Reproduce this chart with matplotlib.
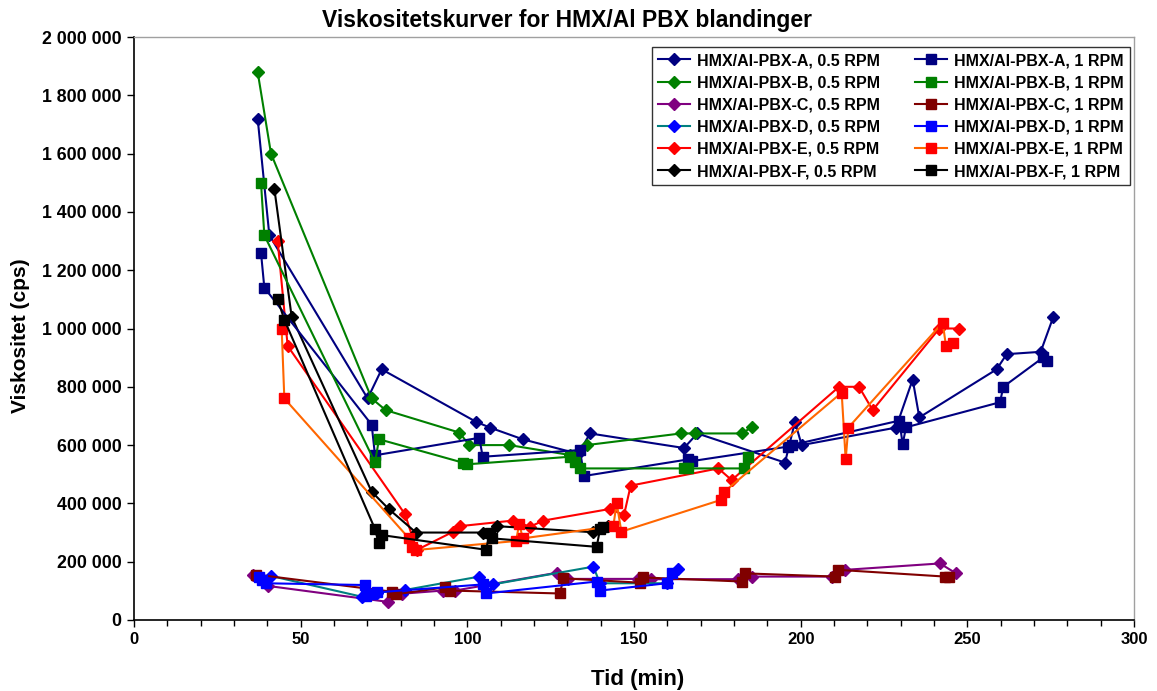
import matplotlib
matplotlib.use("Agg")
import matplotlib.pyplot as plt
from matplotlib.ticker import FuncFormatter, MultipleLocator

plt.rcParams['font.family'] = ['Liberation Sans', 'DejaVu Sans']

# ---- data (time in min, viscosity in cps) ----
A05_t = [37.1, 40.6, 70.1, 74.3, 102.6, 106.8, 116.6, 133.3, 136.8, 165.0, 169.0, 195.3, 198.3, 200.3, 228.6, 233.6, 235.6, 258.8, 261.8, 272.0, 275.8]
A05_v = [1720000, 1320000, 760000, 860000, 680000, 660000, 620000, 570000, 640000, 590000, 640000, 540000, 680000, 600000, 660000, 825000, 695000, 860000, 912000, 920000, 1040000]

A1_t = [38.1, 39.1, 71.3, 72.3, 103.6, 104.6, 133.8, 135.0, 166.3, 167.3, 196.3, 197.3, 229.6, 230.6, 231.6, 259.8, 260.8, 272.8, 274.0]
A1_v = [1260000, 1140000, 670000, 565000, 625000, 560000, 583000, 494000, 551000, 545000, 595000, 600000, 684000, 603000, 661000, 747000, 800000, 901000, 890000]

B05_t = [37.1, 41.1, 71.3, 75.5, 97.6, 100.6, 112.6, 130.8, 135.8, 164.1, 168.3, 182.3, 185.3]
B05_v = [1880000, 1600000, 760000, 720000, 643000, 600000, 600000, 566000, 600000, 640000, 640000, 640000, 661000]

B1_t = [38.1, 39.1, 72.3, 73.5, 98.6, 99.8, 130.8, 132.3, 133.8, 165.1, 166.1, 183.1, 184.3]
B1_v = [1500000, 1320000, 541000, 620000, 540000, 534000, 560000, 543000, 520000, 520000, 520000, 520000, 560000]

C05_t = [35.8, 40.1, 76.3, 80.3, 92.6, 96.3, 126.8, 130.3, 151.3, 155.0, 181.3, 185.3, 209.3, 213.3, 241.8, 246.6]
C05_v = [154000, 117000, 62000, 90000, 101000, 101000, 162000, 141000, 141000, 140000, 140000, 149000, 149000, 172000, 194000, 160000]

C1_t = [36.5, 77.5, 78.5, 93.3, 94.8, 127.8, 128.8, 151.8, 152.8, 182.3, 183.3, 210.3, 211.3, 243.3, 244.5]
C1_v = [156000, 97000, 88000, 112000, 101000, 91000, 143000, 128000, 146000, 132000, 160000, 149000, 172000, 149000, 149000]

D05_t = [41.1, 68.3, 70.5, 72.8, 81.3, 103.6, 107.6, 137.8, 139.8, 159.8, 163.3]
D05_v = [151000, 80000, 85000, 94000, 103000, 149000, 122000, 183000, 126000, 126000, 174000]

D1_t = [37.5, 38.5, 39.5, 69.3, 69.5, 71.0, 73.0, 104.6, 105.6, 138.8, 139.8, 159.8, 161.3]
D1_v = [149000, 137000, 126000, 120000, 83000, 88000, 95000, 122000, 91000, 132000, 101000, 126000, 162000]

E05_t = [43.1, 46.1, 81.3, 84.8, 95.6, 97.8, 113.6, 118.8, 122.8, 142.8, 147.0, 149.0, 175.3, 179.3, 211.5, 217.5, 221.6, 241.6, 247.6]
E05_v = [1300000, 940000, 363000, 240000, 302000, 322000, 341000, 320000, 341000, 381000, 360000, 461000, 520000, 480000, 800000, 800000, 720000, 1000000, 1000000]

E1_t = [44.3, 45.1, 82.5, 83.3, 84.6, 114.6, 115.6, 116.6, 143.8, 144.8, 146.2, 176.1, 177.1, 212.3, 213.5, 214.3, 242.6, 243.6, 245.6]
E1_v = [1000000, 760000, 280000, 251000, 240000, 271000, 331000, 280000, 322000, 402000, 303000, 412000, 440000, 780000, 551000, 660000, 1020000, 940000, 951000]

F05_t = [42.1, 47.3, 71.3, 76.5, 84.6, 104.8, 108.8, 137.8, 142.3]
F05_v = [1480000, 1040000, 440000, 380000, 300000, 300000, 322000, 301000, 324000]

F1_t = [43.1, 45.1, 72.3, 73.4, 74.5, 105.6, 106.8, 107.5, 138.8, 139.8, 140.8]
F1_v = [1100000, 1030000, 312000, 263000, 291000, 241000, 300000, 280000, 251000, 311000, 318000]

# (label, t, v, line colour, marker colour, marker)
series_05 = [
    ("HMX/Al-PBX-A, 0.5 RPM", A05_t, A05_v, "#000080", "#000080", "D"),
    ("HMX/Al-PBX-B, 0.5 RPM", B05_t, B05_v, "#008000", "#008000", "D"),
    ("HMX/Al-PBX-C, 0.5 RPM", C05_t, C05_v, "#800080", "#800080", "D"),
    ("HMX/Al-PBX-D, 0.5 RPM", D05_t, D05_v, "#008080", "#0000FF", "D"),
    ("HMX/Al-PBX-E, 0.5 RPM", E05_t, E05_v, "#FF0000", "#FF0000", "D"),
    ("HMX/Al-PBX-F, 0.5 RPM", F05_t, F05_v, "#000000", "#000000", "D"),
]
series_1 = [
    ("HMX/Al-PBX-A, 1 RPM", A1_t, A1_v, "#000080", "#000080", "s"),
    ("HMX/Al-PBX-B, 1 RPM", B1_t, B1_v, "#008000", "#008000", "s"),
    ("HMX/Al-PBX-C, 1 RPM", C1_t, C1_v, "#800000", "#800000", "s"),
    ("HMX/Al-PBX-D, 1 RPM", D1_t, D1_v, "#0000FF", "#0000FF", "s"),
    ("HMX/Al-PBX-E, 1 RPM", E1_t, E1_v, "#FF6600", "#FF0000", "s"),
    ("HMX/Al-PBX-F, 1 RPM", F1_t, F1_v, "#000000", "#000000", "s"),
]

W, H = 1157, 691
fig = plt.figure(figsize=(W / 100, H / 100), dpi=100)
L, R, T, B = 134, 1134, 37, 620
ax = fig.add_axes([L / W, 1 - B / H, (R - L) / W, (B - T) / H])

handles = []
for lab, t, v, lc, mc, m in series_05 + series_1:
    ms = 5.8 if m == "D" else 6.8
    h, = ax.plot(t, v, color=lc, lw=1.5, marker=m, markersize=ms,
                 markerfacecolor=mc, markeredgecolor=mc, label=lab)
    handles.append(h)

ax.set_xlim(0, 300)
ax.set_ylim(0, 2000000)
ax.xaxis.set_major_locator(MultipleLocator(50))
ax.xaxis.set_minor_locator(MultipleLocator(10))
ax.yaxis.set_major_locator(MultipleLocator(200000))
ax.yaxis.set_major_formatter(FuncFormatter(lambda y, p: f"{int(round(y)):,}".replace(",", " ")))
ax.tick_params(axis='x', which='major', direction='out', length=5, width=1,
               labelsize=12, pad=4)
ax.tick_params(axis='y', which='major', direction='out', length=5, width=1,
               labelsize=12.8, pad=4)
ax.tick_params(axis='x', which='minor', direction='out', length=4, width=1)
for lbl in ax.get_xticklabels() + ax.get_yticklabels():
    lbl.set_fontweight('bold')

for s in ['left', 'bottom']:
    ax.spines[s].set_color('black')
    ax.spines[s].set_linewidth(1.2)
for s in ['top', 'right']:
    ax.spines[s].set_color('#a0a0a0')
    ax.spines[s].set_linewidth(1.0)

fig.text(567 / W, 1 - 21 / H, "Viskositetskurver for HMX/Al PBX blandinger",
         fontsize=16.5, fontweight='bold', ha='center', va='center')
fig.text(638 / W, 1 - 680 / H, "Tid (min)", fontsize=16, fontweight='bold',
         ha='center', va='center')
fig.text(21 / W, 1 - 336 / H, "Viskositet (cps)", fontsize=15, fontweight='bold',
         ha='center', va='center', rotation=90)

leg = ax.legend(handles=handles, ncol=2, loc='upper right',
                bbox_to_anchor=((1130 - L) / (R - L), (B - 47) / (B - T)),
                borderaxespad=0.0,
                frameon=True, fancybox=False,
                edgecolor='black', prop={'size': 11.5, 'weight': 'bold'},
                handlelength=2.0, columnspacing=2.2, labelspacing=0.45,
                borderpad=0.38, handletextpad=0.45)
leg.get_frame().set_linewidth(1.0)

fig.savefig("out.png", dpi=100)
